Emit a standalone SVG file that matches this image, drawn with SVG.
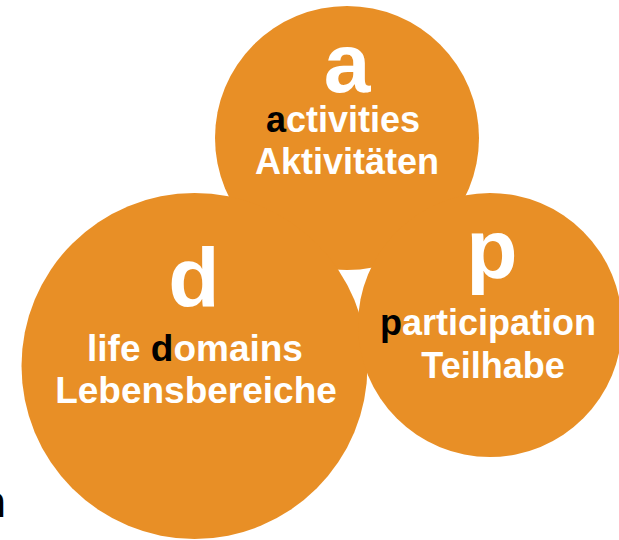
<svg xmlns="http://www.w3.org/2000/svg" width="619" height="540" viewBox="0 0 619 540">
  <style>
    .disc { fill: #E88F26; }
    .big { font-family: "Liberation Sans", Arial, sans-serif; font-weight: bold; font-size: 84px; fill: #fff; text-anchor: middle; }
    .lbl { font-family: "Liberation Sans", Arial, sans-serif; font-weight: bold; font-size: 36px; fill: #fff; text-anchor: middle; }
    .key { fill: #000; }
  </style>
  <rect width="619" height="540" fill="#fff"/>

  <!-- activities -->
  <g id="node-a">
    <circle class="disc" cx="347" cy="138" r="132"/>
    <text class="big" x="347" y="92">a</text>
    <text class="lbl" x="343" y="132"><tspan class="key">a</tspan>ctivities</text>
    <text class="lbl" x="347" y="174">Aktivitäten</text>
  </g>

  <!-- life domains -->
  <g id="node-d">
    <circle class="disc" cx="194.5" cy="366" r="173"/>
    <text class="big" x="194" y="307">d</text>
    <text class="lbl" x="195" y="361" style="font-size:37px">life <tspan class="key">d</tspan>omains</text>
    <text class="lbl" x="196" y="403" style="font-size:37px">Lebensbereiche</text>
  </g>

  <!-- participation -->
  <g id="node-p">
    <circle class="disc" cx="490" cy="325" r="132"/>
    <text class="big" x="492" y="278">p</text>
    <text class="lbl" x="488" y="335"><tspan class="key">p</tspan>articipation</text>
    <text class="lbl" x="493" y="378">Teilhabe</text>
  </g>

  <g id="connectors"/>

  <!-- clipped letter at the left margin -->
  <text x="-21" y="517" style="font-family:'Liberation Sans', Arial, sans-serif; font-weight:bold; font-size:44px; fill:#000">n</text>
</svg>
